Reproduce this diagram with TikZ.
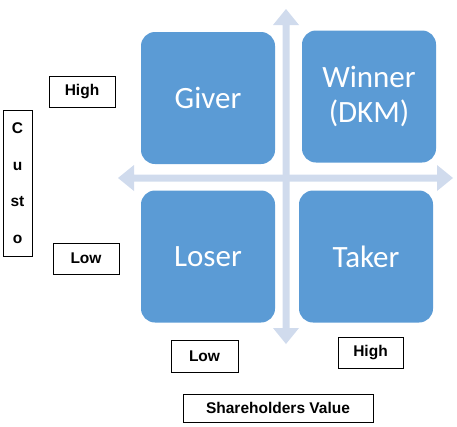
\documentclass[tikz,border=0pt]{standalone}
\usepackage{fontspec}
\usetikzlibrary{calc}
\setmainfont{Liberation Sans}
\newfontfamily\boxfont{Carlito}
\definecolor{quad}{RGB}{91,155,213}
\definecolor{axis}{RGB}{208,219,237}
\begin{document}
\begin{tikzpicture}[x=1pt,y=-1pt,
  quadbox/.style={fill=quad,draw=none,rounded corners=14pt,minimum width=134pt,minimum height=132pt,inner sep=0pt,text=white,align=center,font=\boxfont\fontsize{31}{35}\selectfont},
  lbl/.style={draw=black,line width=0.8pt,fill=white,inner sep=0pt,font=\bfseries\fontsize{15.5}{18}\selectfont},
  axisarrow/.style={fill=axis,draw=none}]
\useasboundingbox (0,0) rectangle (457,426);
% axes
\coordinate (vt) at (286,9);
\coordinate (vb) at (286,344);
\coordinate (hl) at (118,178);
\coordinate (hr) at (453,178);
\fill[axisarrow] (vt) -- ++(13,16) -- ++(-9.5,0) -- ($(vb)+(3.5,-16)$) -- ++(9.5,0) -- (vb) -- ++(-13,-16) -- ++(9.5,0) -- ($(vt)+(-3.5,16)$) -- ++(-9.5,0) -- cycle;
\fill[axisarrow] (hl) -- ++(16,-13) -- ++(0,9.5) -- ($(hr)+(-16,-3.5)$) -- ++(0,-9.5) -- (hr) -- ++(-16,13) -- ++(0,-9.5) -- ($(hl)+(16,3.5)$) -- ++(0,9.5) -- cycle;
% quadrants
\node[quadbox] (giver) at (208,98) {Giver};
\node[quadbox] (winner) at (369,96.5) {Winner\\(DKM)};
\node[quadbox] (loser) at (208,256.5) {Loser};
\node[quadbox] (taker) at (366,256.5) {Taker};
% labels
\node[lbl,minimum width=66pt,minimum height=31pt] (yhigh) at (82,91.5) {High};
\node[lbl,minimum width=66pt,minimum height=31pt] (ylow) at (86,258.5) {Low};
\node[lbl,minimum width=29pt,minimum height=146pt,align=center,font=\bfseries\fontsize{15.5}{36.5}\selectfont] (custo) at (17.5,183) {C\\u\\st\\o};
\node[lbl,minimum width=67pt,minimum height=32pt] (xlow) at (204.5,356) {Low};
\node[lbl,minimum width=65pt,minimum height=31pt] (xhigh) at (370.5,352.5) {High};
\node[lbl,minimum width=190pt,minimum height=28pt] (xtitle) at (278,408) {Shareholders Value};
\end{tikzpicture}
\end{document}
